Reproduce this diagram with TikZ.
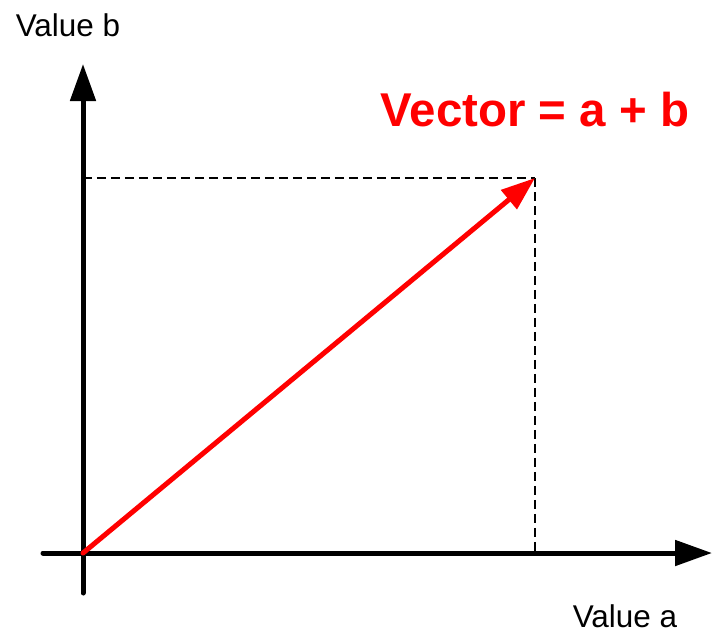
\documentclass[tikz,border=0pt]{standalone}
\usepackage{fontspec}
\setmainfont{Liberation Sans}
\usetikzlibrary{arrows.meta}
\definecolor{vecR}{HTML}{FF0000}
\tikzset{
  axis/.style={line width=0.1cm, line cap=round, draw=black,
               -{Triangle[length=0.74cm, width=0.5cm]}},
  vec/.style={line width=0.1cm, line cap=round, draw=vecR,
              -{Triangle[length=0.68cm, width=0.48cm]}},
  guide/.style={line width=0.026cm, draw=black, dash pattern=on 0.18cm off 0.1cm},
  lbl/.style={font=\fontsize{17.9}{20}\selectfont, inner sep=0pt},
  title/.style={font=\fontsize{27}{30}\selectfont\bfseries, text=vecR, inner sep=0pt},
}
\begin{document}
\begin{tikzpicture}[x=0.02cm, y=-0.02cm]
  \useasboundingbox (0,0) rectangle (712,633);

  % axes
  \coordinate (o) at (83,553);
  \coordinate (ybot) at (83,593);
  \coordinate (ytop) at (83,64);
  \coordinate (xlft) at (43,553);
  \coordinate (xrgt) at (712,553);
  \coordinate (p) at (535,178);

  \draw[guide] (o |- p) -- (p);
  \draw[guide] (p) -- (p |- o);

  \draw[axis] (ybot) -- (ytop);
  \draw[axis] (xlft) -- (xrgt);
  \draw[vec] (o) -- (p);

  \node[lbl] (lb) at (68,25) {Value b};
  \node[lbl] (la) at (625,616) {Value a};
  \node[title] (vt) at (535,110) {Vector = a + b};
\end{tikzpicture}
\end{document}
